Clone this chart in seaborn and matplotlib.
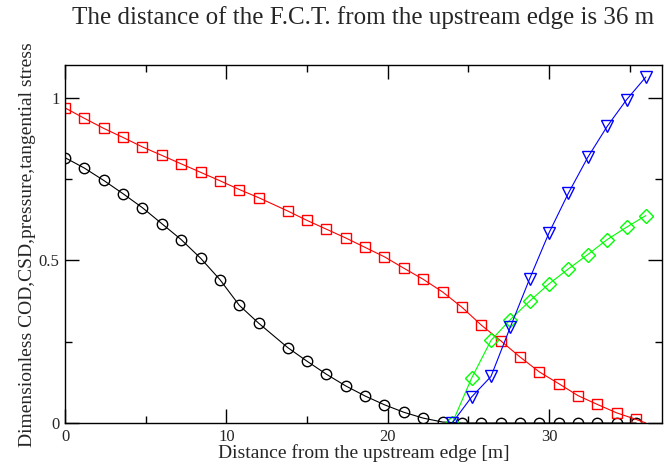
import matplotlib
matplotlib.use('Agg')
import matplotlib.pyplot as plt
import seaborn as sns
import pandas as pd

# COD (black circles)
cod_x = [0.0, 1.2, 2.4, 3.6, 4.8, 6.0, 7.2, 8.4, 9.6, 10.8, 12.0,
         13.8, 15.0, 16.2, 17.4, 18.6, 19.8, 21.0, 22.2, 23.4,
         24.6, 25.8, 27.0, 28.2, 29.4, 30.6, 31.8, 33.0, 34.2, 35.4]
cod_y = [0.816, 0.784, 0.746, 0.705, 0.662, 0.613, 0.564, 0.507, 0.441, 0.362, 0.307,
         0.232, 0.190, 0.150, 0.114, 0.083, 0.056, 0.033, 0.015, 0.003,
         0.0, 0.0, 0.0, 0.0, 0.0, 0.0, 0.0, 0.0, 0.0, 0.0]

# pressure (red squares), line ends at 36 m without a marker
pres_x = [0.0, 1.2, 2.4, 3.6, 4.8, 6.0, 7.2, 8.4, 9.6, 10.8, 12.0,
          13.8, 15.0, 16.2, 17.4, 18.6, 19.8, 21.0, 22.2, 23.4,
          24.6, 25.8, 27.0, 28.2, 29.4, 30.6, 31.8, 33.0, 34.2, 35.4, 36.0]
pres_y = [0.969, 0.937, 0.906, 0.878, 0.849, 0.823, 0.797, 0.771, 0.745, 0.718, 0.693,
          0.652, 0.623, 0.596, 0.569, 0.540, 0.511, 0.476, 0.442, 0.403,
          0.356, 0.301, 0.253, 0.203, 0.157, 0.121, 0.084, 0.057, 0.031, 0.011, 0.0]

# CSD (blue triangles) and tangential stress (green diamonds)
csd_x = [24.0, 25.2, 26.4, 27.6, 28.8, 30.0, 31.2, 32.4, 33.6, 34.8, 36.0]
csd_y = [0.0, 0.080, 0.143, 0.295, 0.444, 0.585, 0.707, 0.817, 0.912, 0.994, 1.064]
tau_x = [24.0, 25.2, 26.4, 27.6, 28.8, 30.0, 31.2, 32.4, 33.6, 34.8, 36.0]
tau_y = [0.0, 0.138, 0.254, 0.318, 0.375, 0.428, 0.474, 0.518, 0.564, 0.602, 0.638]

x_ticks = [0, 10, 20, 30]
y_ticks = [0, 0.5, 1]
y_tick_labels = ['0', '0.5', '1']

sns.set_style("ticks")
plt.rcParams['font.family'] = ['Liberation Serif', 'DejaVu Serif']

fig = plt.figure(figsize=(6.72, 4.66), dpi=100)
ax = fig.add_axes([65 / 672, 43 / 466, 597 / 672, 357.7 / 466])

series = [
    (cod_x, cod_y, 'black', 'o', 7.5, None),
    (pres_x, pres_y, 'red', 's', 7.5, list(range(len(pres_x) - 1))),
    (tau_x, tau_y, '#00ff00', 'D', 7.0, None),
    (csd_x, csd_y, 'blue', 'v', 9, None),
]
for xs, ys, color, marker, msize, every in series:
    df = pd.DataFrame({'x': xs, 'y': ys})
    sns.lineplot(data=df, x='x', y='y', ax=ax, color=color, linewidth=0.8,
                 marker=marker, markersize=msize, markerfacecolor='none',
                 markeredgecolor=color, markeredgewidth=1.0,
                 markevery=every, sort=False, estimator=None)

ax.set_xlim(0, 37)
ax.set_ylim(0, 1.1)
ax.set_xticks(x_ticks)
ax.set_xticks([5, 15, 25, 35], minor=True)
ax.set_yticks(y_ticks)
ax.set_yticklabels(y_tick_labels)
ax.set_yticks([0.25, 0.75], minor=True)
ax.tick_params(which='both', direction='in', top=True, right=True,
               labelsize=12, width=1.0, color='black')
ax.tick_params(which='major', length=10, pad=4)
ax.tick_params(which='minor', length=5)
for sp in ax.spines.values():
    sp.set_linewidth(1.0)
    sp.set_color('black')

ax.set_xlabel('Distance from the upstream edge [m]', fontsize=14, labelpad=0)
ax.set_ylabel('Dimensionless COD,CSD,pressure,tangential stress', fontsize=14, labelpad=2)
fig.text(363 / 672, 1 - 24 / 466,
         'The distance of the F.C.T. from the upstream edge is 36 m',
         ha='center', va='baseline', fontsize=18)

fig.savefig('out.png', dpi=100)
